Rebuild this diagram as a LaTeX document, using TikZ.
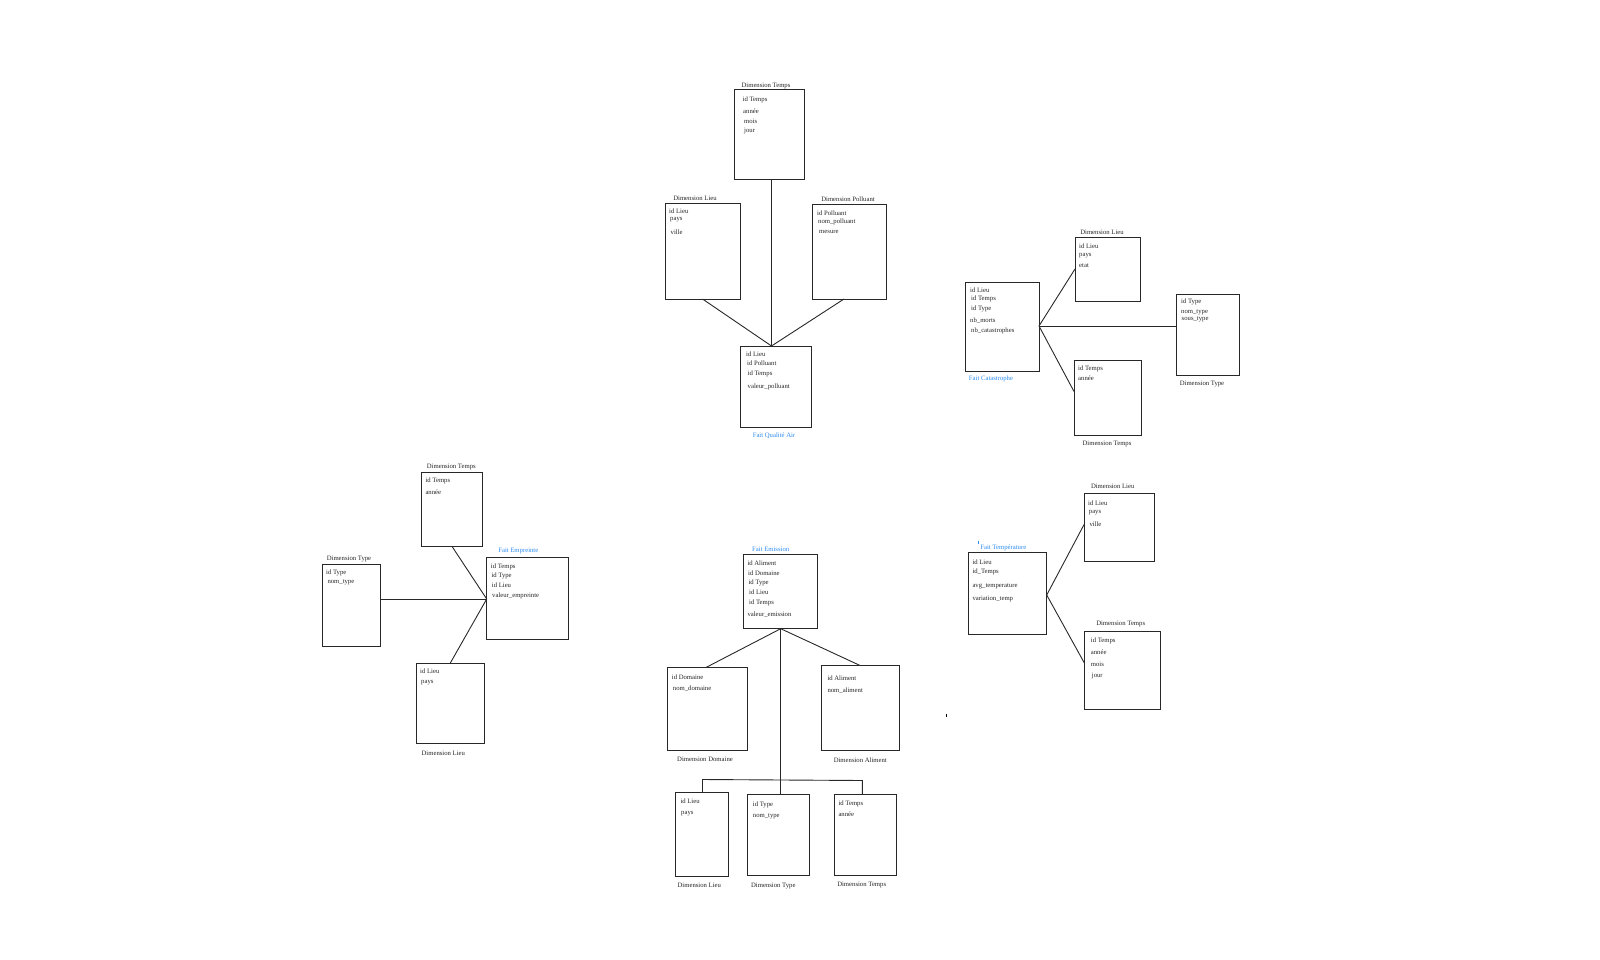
\documentclass[tikz,border=0pt]{standalone}
\usepackage{fontspec}
\setmainfont{Liberation Serif}
\definecolor{lblblue}{RGB}{45,140,240}
\definecolor{edge}{RGB}{40,40,40}
\begin{document}
\begin{tikzpicture}[x=1pt,y=-1pt,
  tbl/.style={draw=edge, line width=0.9pt, inner sep=0pt, outer sep=0pt, anchor=north west},
  item/.style={anchor=west, inner sep=0pt, font=\fontsize{6.7}{7}\selectfont, text=black!85},
  lab/.style={inner sep=0pt, font=\fontsize{6.7}{7}\selectfont, text=black!85},
  fact/.style={inner sep=0pt, font=\fontsize{6.7}{7}\selectfont, text=lblblue},
  conn/.style={draw=edge, line width=0.9pt}]
\useasboundingbox (0,0) rectangle (1600,960);

% ===== Fait Qualite Air =====
\node[tbl, minimum width=70pt, minimum height=90pt] (qT) at (734,89) {};
\node[lab] (qTl) at (766,86) {Dimension Temps};
\node[item] (qT1) at (742.5,100) {id Temps};
\node[item] (qT2) at (743,111) {année};
\node[item] (qT3) at (744,121) {mois};
\node[item] (qT4) at (744,131) {jour};

\node[tbl, minimum width=75pt, minimum height=96pt] (qL) at (665,203) {};
\node[lab] (qLl) at (695,198) {Dimension Lieu};
\node[item] (qL1) at (669,211) {id Lieu};
\node[item] (qL2) at (670,220) {pays};
\node[item] (qL3) at (670.5,232) {ville};

\node[tbl, minimum width=74pt, minimum height=95pt] (qP) at (812,204) {};
\node[lab] (qPl) at (848,199.5) {Dimension Polluant};
\node[item] (qP1) at (817,213) {id Polluant};
\node[item] (qP2) at (818,222) {nom\_polluant};
\node[item] (qP3) at (819,231.5) {mesure};

\node[tbl, minimum width=71pt, minimum height=81pt] (fQ) at (740,346) {};
\node[item] (fQ1) at (746,354) {id Lieu};
\node[item] (fQ2) at (747,363) {id Polluant};
\node[item] (fQ3) at (747.5,374) {id Temps};
\node[item] (fQ4) at (747.5,387) {valeur\_polluant};
\node[fact] (fQl) at (774,436) {Fait Qualité Air};

\coordinate (jQ) at (771.5,346);
\draw[conn] (jQ |- qT.south) -- (jQ);
\draw[conn] (qL.south) -- (jQ);
\draw[conn] ([xshift=-5pt]qP.south) -- (jQ);

% ===== Fait Catastrophe =====
\node[tbl, minimum width=74pt, minimum height=89pt] (fC) at (965,282) {};
\node[item] (fC1) at (970,290) {id Lieu};
\node[item] (fC2) at (971,299) {id Temps};
\node[item] (fC3) at (971,309) {id Type};
\node[item] (fC4) at (970,321) {nb\_morts};
\node[item] (fC5) at (971,331) {nb\_catastrophes};
\node[fact] (fCl) at (991,379) {Fait Catastrophe};

\node[tbl, minimum width=65pt, minimum height=64pt] (cL) at (1075,237) {};
\node[lab] (cLl) at (1102,232.5) {Dimension Lieu};
\node[item] (cL1) at (1079,246) {id Lieu};
\node[item] (cL2) at (1079,256) {pays};
\node[item] (cL3) at (1079,266) {etat};

\node[tbl, minimum width=63pt, minimum height=81pt] (cTy) at (1176,294) {};
\node[lab] (cTyl) at (1202,384) {Dimension Type};
\node[item] (cTy1) at (1181,302) {id Type};
\node[item] (cTy2) at (1181,312) {nom\_type};
\node[item] (cTy3) at (1181.5,319) {sous\_type};

\node[tbl, minimum width=67pt, minimum height=75pt] (cTe) at (1074,360) {};
\node[lab] (cTel) at (1107,444) {Dimension Temps};
\node[item] (cTe1) at (1078,369) {id Temps};
\node[item] (cTe2) at (1078,378) {année};

\coordinate (jC) at (1039,326);
\draw[conn] (jC) -- (cL.west);
\draw[conn] (jC) -- (jC -| cTy.west);
\draw[conn] (jC) -- ([yshift=6pt]cTe.west);

% ===== Fait Empreinte =====
\node[tbl, minimum width=61pt, minimum height=74pt] (eT) at (421.7,472.7) {};
\node[lab] (eTl) at (451.3,467) {Dimension Temps};
\node[item] (eT1) at (425.3,481.3) {id Temps};
\node[item] (eT2) at (425.3,492) {année};

\node[tbl, minimum width=57.6pt, minimum height=81.3pt] (eTy) at (322.7,564.7) {};
\node[lab] (eTyl) at (349,559) {Dimension Type};
\node[item] (eTy1) at (326,573) {id Type};
\node[item] (eTy2) at (327.3,582) {nom\_type};

\node[tbl, minimum width=81.6pt, minimum height=82pt] (fE) at (486.7,557.3) {};
\node[fact] (fEl) at (518.3,550.7) {Fait Empreinte};
\node[item] (fE1) at (490.7,567.3) {id Temps};
\node[item] (fE2) at (491.3,576.3) {id Type};
\node[item] (fE3) at (491.7,585) {id Lieu};
\node[item] (fE4) at (492,596) {valeur\_empreinte};

\node[tbl, minimum width=67.7pt, minimum height=80pt] (eL) at (416.3,663.3) {};
\node[lab] (eLl) at (443.3,753.7) {Dimension Lieu};
\node[item] (eL1) at (420,671.7) {id Lieu};
\node[item] (eL2) at (421,682.7) {pays};

\coordinate (jE) at (486.7,599);
\draw[conn] (eT.south) -- (jE);
\draw[conn] (jE -| eTy.east) -- (jE);
\draw[conn] (eL.north) -- (jE);

% ===== Fait Emission =====
\node[tbl, minimum width=74pt, minimum height=74.7pt] (fM) at (743,554) {};
\node[fact] (fMl) at (770.7,549.5) {Fait Emission};
\node[item] (fM1) at (747.3,563.7) {id Aliment};
\node[item] (fM2) at (748,573) {id Domaine};
\node[item] (fM3) at (748.3,582.7) {id Type};
\node[item] (fM4) at (749,592.7) {id Lieu};
\node[item] (fM5) at (749,602.7) {id Temps};
\node[item] (fM6) at (747.3,615) {valeur\_emission};

\node[tbl, minimum width=80pt, minimum height=82.7pt] (mD) at (667.3,667.3) {};
\node[lab] (mDl) at (705,759.3) {Dimension Domaine};
\node[item] (mD1) at (671.7,677) {id Domaine};
\node[item] (mD2) at (672.7,689) {nom\_domaine};

\node[tbl, minimum width=77.6pt, minimum height=85pt] (mA) at (821.7,665.7) {};
\node[lab] (mAl) at (860.3,760) {Dimension Aliment};
\node[item] (mA1) at (827.3,678) {id Aliment};
\node[item] (mA2) at (827.3,690.3) {nom\_aliment};

\node[tbl, minimum width=53pt, minimum height=83.3pt] (mL) at (675.7,792.7) {};
\node[lab] (mLl) at (699.3,885.3) {Dimension Lieu};
\node[item] (mL1) at (680.3,801.7) {id Lieu};
\node[item] (mL2) at (681,813.7) {pays};

\node[tbl, minimum width=62.4pt, minimum height=81pt] (mTy) at (747.3,794) {};
\node[lab] (mTyl) at (773.3,886) {Dimension Type};
\node[item] (mTy1) at (752.7,805.3) {id Type};
\node[item] (mTy2) at (752.7,816) {nom\_type};

\node[tbl, minimum width=61.7pt, minimum height=81pt] (mTe) at (834.3,794) {};
\node[lab] (mTel) at (861.7,885) {Dimension Temps};
\node[item] (mTe1) at (838.3,804) {id Temps};
\node[item] (mTe2) at (838.3,814.3) {année};

\coordinate (jM) at (780.7,628.7);
\coordinate (jB) at (780.7,780);
\coordinate (bL) at (702.5,779.5);
\coordinate (bR) at (862.3,780.5);
\draw[conn] (jM) -- ([xshift=-1pt]mD.north);
\draw[conn] (jM) -- (mA.north);
\draw[conn] (jM) -- (jB) -- (jB |- mTy.north);
\draw[conn] (bL |- mL.north) -- (bL) -- (bR) -- (bR |- mTe.north);

% ===== Fait Temperature =====
\node[tbl, minimum width=78.7pt, minimum height=81.6pt] (fT) at (968,552.7) {};
\node[fact] (fTl) at (1003.3,548) {Fait Température};
\node[item] (fT1) at (972.3,562) {id Lieu};
\node[item] (fT2) at (972.3,572) {id\_Temps};
\node[item] (fT3) at (972.3,586.3) {avg\_temperature};
\node[item] (fT4) at (972.3,599) {variation\_temp};

\node[tbl, minimum width=70pt, minimum height=67.7pt] (tL) at (1084,493.3) {};
\node[lab] (tLl) at (1112.7,486.7) {Dimension Lieu};
\node[item] (tL1) at (1088,503) {id Lieu};
\node[item] (tL2) at (1088.7,513) {pays};
\node[item] (tL3) at (1089.3,524) {ville};

\node[tbl, minimum width=75.3pt, minimum height=78.3pt] (tTe) at (1084.7,631) {};
\node[lab] (tTel) at (1120.7,624) {Dimension Temps};
\node[item] (tTe1) at (1090.7,641) {id Temps};
\node[item] (tTe2) at (1090.7,652.3) {année};
\node[item] (tTe3) at (1090.7,664) {mois};
\node[item] (tTe4) at (1091.7,676) {jour};

\coordinate (jT) at (1046.7,595);
\draw[conn] (jT) -- ([yshift=2.5pt]tL.west);
\draw[conn] (jT) -- ([yshift=6.5pt]tTe.west);

% stray marks
\coordinate (m1) at (978.7,541);
\coordinate (m2) at (946.7,714);
\draw[draw=lblblue, line width=0.5pt] (m1) -- ++(0,2.5);
\draw[draw=black, line width=0.8pt] (m2) -- ++(0,2.5);
\end{tikzpicture}
\end{document}
